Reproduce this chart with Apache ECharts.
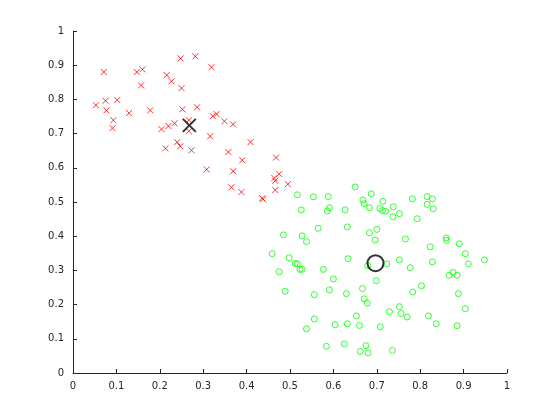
<!DOCTYPE html>
<html><head><meta charset="utf-8">
<script src="https://cdn.jsdelivr.net/npm/echarts@6/dist/echarts.min.js"></script>
<style>html,body{margin:0;padding:0;background:#fff}#c{width:560px;height:420px}</style>
</head><body><div id="c"></div>
<script>
const redX = [0.248,0.282,0.319,0.071,0.147,0.160,0.216,0.227,0.157,0.250,0.053,0.075,0.102,0.077,0.129,0.178,0.252,0.286,0.093,0.091,0.204,0.220,0.234,0.267,0.267,0.322,0.331,0.349,0.369,0.316,0.240,0.247,0.213,0.273,0.409,0.358,0.390,0.308,0.369,0.468,0.475,0.464,0.466,0.466,0.495,0.365,0.388,0.436,0.438];
const redY = [0.920,0.926,0.894,0.880,0.880,0.888,0.871,0.853,0.841,0.833,0.783,0.796,0.798,0.768,0.760,0.768,0.771,0.777,0.739,0.716,0.713,0.722,0.730,0.739,0.707,0.751,0.757,0.736,0.727,0.692,0.675,0.663,0.657,0.651,0.675,0.646,0.622,0.595,0.590,0.630,0.582,0.570,0.562,0.535,0.552,0.543,0.529,0.511,0.508];
const greenX = [0.650,0.517,0.554,0.588,0.526,0.586,0.591,0.627,0.668,0.687,0.671,0.683,0.714,0.707,0.713,0.720,0.565,0.632,0.485,0.528,0.538,0.683,0.700,0.696,0.459,0.498,0.512,0.517,0.523,0.528,0.475,0.577,0.634,0.600,0.699,0.679,0.723,
  0.738,0.737,0.752,0.782,0.816,0.828,0.816,0.830,0.793,0.766,0.860,0.861,0.890,0.823,0.904,0.752,0.828,0.948,0.911,0.777,0.867,0.876,0.885,0.803,
  0.489,0.556,0.591,0.630,0.667,0.671,0.678,0.729,0.752,0.756,0.770,0.556,0.538,0.604,0.632,0.653,0.660,0.708,0.584,0.625,0.675,0.662,0.680,0.736,
  0.783,0.888,0.904,0.819,0.837,0.885];
const greenY = [0.544,0.521,0.515,0.516,0.477,0.474,0.483,0.477,0.506,0.524,0.495,0.483,0.502,0.481,0.475,0.473,0.423,0.427,0.404,0.401,0.384,0.410,0.420,0.389,0.349,0.337,0.320,0.319,0.303,0.303,0.296,0.303,0.334,0.275,0.270,0.314,0.319,
  0.486,0.457,0.466,0.509,0.516,0.509,0.493,0.480,0.451,0.392,0.395,0.388,0.378,0.369,0.349,0.331,0.325,0.331,0.319,0.308,0.286,0.294,0.286,0.255,
  0.239,0.229,0.243,0.232,0.247,0.217,0.204,0.179,0.194,0.174,0.164,0.158,0.129,0.141,0.144,0.167,0.139,0.135,0.078,0.085,0.080,0.063,0.059,0.066,
  0.237,0.232,0.188,0.167,0.144,0.138];
const centroidRed = [0.268, 0.724];
const centroidGreen = [0.697, 0.321];
const ticks = [0,0.1,0.2,0.3,0.4,0.5,0.6,0.7,0.8,0.9,1];

const pair = (xs, ys) => xs.map((x,i)=>[x, ys[i]]);
const crossPath = 'path://M0,0L10,10M10,0L0,10';
const axisCommon = {
  min: 0, max: 1, interval: 0.1,
  axisLine: {show: true, onZero: false, lineStyle: {color: '#262626', width: 1}},
  axisTick: {show: true, inside: true, length: 4, lineStyle: {color: '#262626'}},
  splitLine: {show: false},
  axisLabel: {color: '#262626', fontFamily: 'DejaVu Sans', fontSize: 10,
    formatter: v => String(ticks[Math.round(v*10)])}
};
const chart = echarts.init(document.getElementById('c'), null, {renderer: 'canvas'});
chart.setOption({
  animation: false,
  backgroundColor: '#fff',
  grid: {left: 73, right: 53, top: 31, bottom: 47, containLabel: false, outerBoundsMode: 'none'},
  xAxis: Object.assign({type: 'value'}, axisCommon, {axisLabel: Object.assign({}, axisCommon.axisLabel, {margin: 8})}),
  yAxis: Object.assign({type: 'value'}, axisCommon, {axisLabel: Object.assign({}, axisCommon.axisLabel, {margin: 9})}),
  series: [
    {type: 'scatter', data: pair(redX, redY), symbol: crossPath, symbolSize: 6,
     itemStyle: {color: 'none', borderColor: '#ff0000', borderWidth: 1}},
    {type: 'scatter', data: pair(greenX, greenY), symbol: 'circle', symbolSize: 6,
     itemStyle: {color: 'none', borderColor: '#00ff00', borderWidth: 1}},
    {type: 'scatter', data: [centroidRed], symbol: crossPath, symbolSize: 13,
     itemStyle: {color: 'none', borderColor: '#000', borderWidth: 2}},
    {type: 'scatter', data: [centroidGreen], symbol: 'circle', symbolSize: 16,
     itemStyle: {color: 'none', borderColor: '#000', borderWidth: 2}}
  ]
});
</script></body></html>
